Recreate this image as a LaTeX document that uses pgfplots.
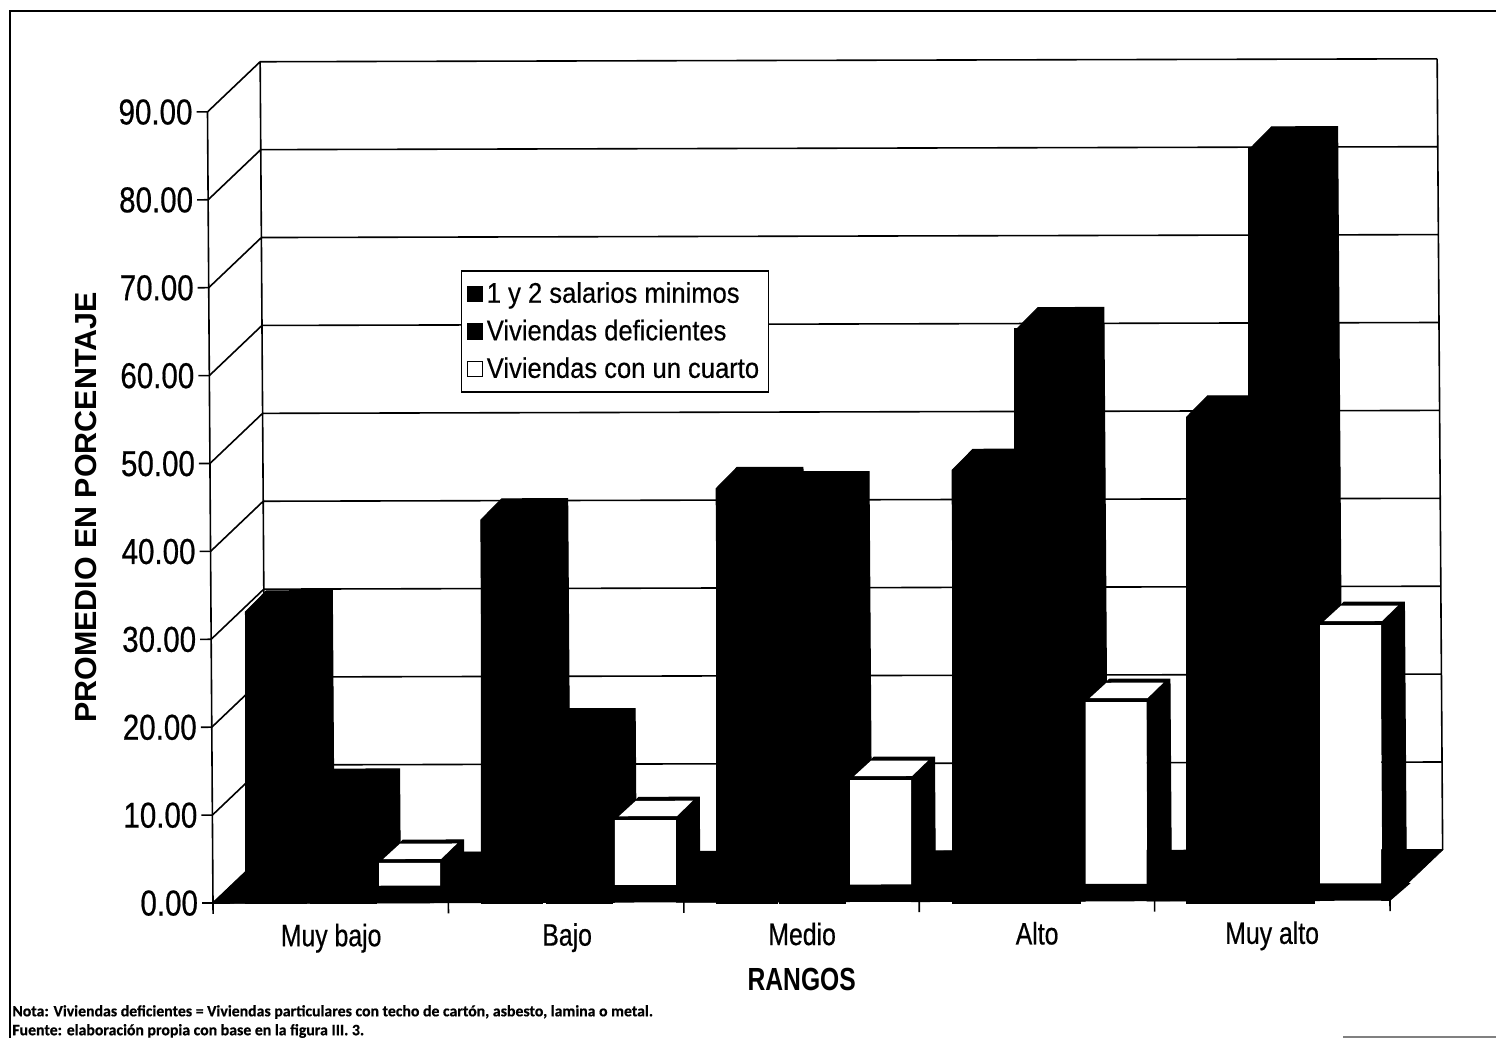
\documentclass[border=0pt]{standalone}
\usepackage{fontspec}
\usepackage{pgfplots}
\pgfplotsset{compat=1.18}
\setmainfont{Liberation Sans}
\newfontfamily\ticf[FakeStretch=0.82,FakeBold=0.5]{Liberation Sans}
\newfontfamily\catf[FakeStretch=0.8,FakeBold=0.5]{Liberation Sans}
\newfontfamily\legf[FakeStretch=0.9,FakeBold=0.4]{Liberation Sans}
\newfontfamily\xlabf[FakeStretch=0.77]{Liberation Sans}
\newfontfamily\notef[BoldFeatures={FakeBold=0.6}]{Carlito}
\newcommand{\blackdepth}[2]{%
  \pgfmathsetmacro\xa{#1+21}\pgfmathsetmacro\xb{#1+87}\pgfmathsetmacro\vb{#2+2.4}%
  \addplot[fill=black,draw=black,line width=0.5pt,forget plot] coordinates {(#1,#2) (\xa,\vb) (\xb,\vb) (\xb,3) (#1,3)} --cycle;
}
\newcommand{\whitedepth}[2]{%
  \pgfmathsetmacro\xa{#1+24}\pgfmathsetmacro\xb{#1+84.5}\pgfmathsetmacro\xc{#1+61}\pgfmathsetmacro\vb{#2+2.6}%
  \addplot[fill=black,draw=black,line width=0.5pt,forget plot] coordinates {(#1,#2) (\xa,\vb) (\xb,\vb) (\xb,3) (\xc,1.9) (\xc,#2)} --cycle;
}
\newcommand{\whitetop}[2]{%
  \pgfmathsetmacro\xa{#1+4}\pgfmathsetmacro\xb{#1+21}\pgfmathsetmacro\xc{#1+78}\pgfmathsetmacro\xd{#1+62}%
  \pgfmathsetmacro\va{#2+0.45}\pgfmathsetmacro\vb{#2+2.2}%
  \addplot[fill=white,draw=none,forget plot] coordinates {(\xa,\va) (\xb,\vb) (\xc,\vb) (\xd,\va)} --cycle;
}
\begin{document}
\begin{tikzpicture}
\useasboundingbox (0,0) rectangle (748pt,519pt);
\fill[white] (0,0) rectangle (748pt,519pt);
\begin{axis}[
  at={(106.5pt,67.5pt)}, anchor=origin,
  x={(0.5pt,0.00125pt)}, y={(-0.0305pt,4.395pt)},
  xmin=213, xmax=1390, ymin=0, ymax=90,
  clip=false,
  axis x line*=bottom, axis y line*=left,
  axis line style={-,line width=0.8pt},
  tick style={black,line width=0.8pt},
  tick align=outside,
  major tick length=5.5pt,
  ytick={0,10,...,90},
  /pgf/number format/fixed,
  /pgf/number format/fixed zerofill,
  /pgf/number format/precision=2,
  /pgf/number format/assume math mode=true,
  yticklabel style={font=\ticf\fontsize{18}{18}\selectfont,xshift=1.5pt},
  xtick={213,448.4,683.8,919.2,1154.6,1390},
  xticklabels={},
  extra x ticks={331,567,802,1037,1272},
  extra x tick labels={Muy bajo,Bajo,Medio,Alto,Muy alto},
  extra x tick style={major tick length=0pt,tick label style={font=\catf\fontsize{15.5}{15.5}\selectfont,yshift=-7pt}},
  ylabel={\bfseries PROMEDIO EN PORCENTAJE},
  ylabel style={font=\fontsize{15.2}{15.2}\selectfont,at={(axis description cs:-0.103,0.498)},anchor=center},
  xlabel={\bfseries RANGOS},
  xlabel style={font=\xlabf\fontsize{16}{16}\selectfont,at={(axis description cs:0.5025,-0.096)},anchor=center},
  legend cell align=left,
  legend style={at={(axis cs:465.4,71.9)},anchor=north west,draw=black,line width=0.6pt,fill=white,
    font=\legf\fontsize{14.2}{14.2}\selectfont,inner xsep=2.5pt,inner ysep=3.6pt,row sep=3pt,
    /tikz/every even column/.append style={column sep=2.4pt}},
  legend image code/.code={\draw[#1,line width=0.5pt] (0pt,-3.8pt) rectangle (7.6pt,3.8pt);},
]
% walls: grid lines of the side and the back wall
\addplot[black,line width=0.8pt,forget plot,unbounded coords=jump] coordinates {
 (213,0) (266,5.69) (1443,5.69) (1443,nan)
 (213,10) (266,15.69) (1443,15.69) (1443,nan)
 (213,20) (266,25.69) (1443,25.69) (1443,nan)
 (213,30) (266,35.69) (1443,35.69) (1443,nan)
 (213,40) (266,45.69) (1443,45.69) (1443,nan)
 (213,50) (266,55.69) (1443,55.69) (1443,nan)
 (213,60) (266,65.69) (1443,65.69) (1443,nan)
 (213,70) (266,75.69) (1443,75.69) (1443,nan)
 (213,80) (266,85.69) (1443,85.69) (1443,nan)
 (213,90) (266,95.69) (1443,95.69) (1443,nan)
 (266,5.69) (266,95.69) (266,nan)
 (1443,5.69) (1443,95.69) (1443,nan)
};
% floor
\addplot[fill=black,draw=black,forget plot] coordinates {(213,0) (1390,0) (1443,5.69) (266,5.69)} --cycle;
% depth of the black bars
\blackdepth{247.5}{33.1}\blackdepth{483.5}{43.5}\blackdepth{719}{47.0}\blackdepth{955}{49.0}\blackdepth{1190}{55.0}
\blackdepth{313.5}{12.8}\blackdepth{549.5}{19.6}\blackdepth{785}{46.5}\blackdepth{1021}{65.1}\blackdepth{1256}{85.6}
\whitedepth{379.5}{4.5}\whitedepth{615.5}{9.3}\whitedepth{851}{13.8}\whitedepth{1087}{22.6}\whitedepth{1322}{31.3}
% front faces
\addplot[ybar,bar width=61,bar shift=0,fill=black,draw=black,line width=0.3pt] coordinates {(278,33.1) (514,43.5) (749.5,47.0) (985.5,49.0) (1220.5,55.0)};
\addlegendentry{1 y 2 salarios minimos}
\addplot[ybar,bar width=66,bar shift=0,fill=black,draw=black,line width=0.3pt] coordinates {(344,12.8) (580,19.6) (815.5,46.5) (1051.5,65.1) (1286.5,85.6)};
\addlegendentry{Viviendas deficientes}
\addplot[ybar,bar width=61,bar shift=0,fill=white,draw=none] coordinates {(410,4.5) (646,9.3) (881.5,13.8) (1117.5,22.6) (1352.5,31.3)};
\addlegendentry{Viviendas con un cuarto}
% tops of the white bars
\whitetop{379.5}{4.5}\whitetop{615.5}{9.3}\whitetop{851}{13.8}\whitetop{1087}{22.6}\whitetop{1322}{31.3}
% front strip of the floor
\addplot[fill=black,draw=black,line width=1pt,forget plot] coordinates {(214,0.05) (1390,0.05) (1408,1.8) (231,1.8)} --cycle;
\end{axis}
\draw[line width=0.8pt] (4.5pt,513.5pt) -- (748pt,513.5pt);
\draw[line width=0.8pt] (5pt,513.5pt) -- (5pt,0pt);
\draw[line width=0.8pt,gray] (671.5pt,0.5pt) -- (748pt,0.5pt);
\node[anchor=west,inner sep=0pt,font=\notef\bfseries\fontsize{7.9}{7.9}\selectfont] at (6pt,13pt) {Nota: Viviendas deficientes = Viviendas particulares con techo de cartón, asbesto, lamina o metal.};
\node[anchor=west,inner sep=0pt,font=\notef\bfseries\fontsize{7.9}{7.9}\selectfont] at (6pt,3.5pt) {Fuente: elaboración propia con base en la figura III. 3.};
\end{tikzpicture}
\end{document}
